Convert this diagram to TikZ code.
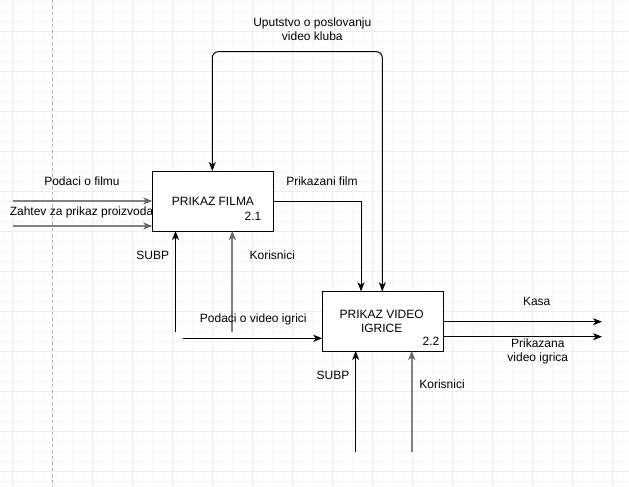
\documentclass[tikz,border=0pt]{standalone}
\usepackage{fontspec}
\setmainfont{Liberation Sans}
\usetikzlibrary{arrows.meta}
\begin{document}
\begin{tikzpicture}[x=1pt,y=-1pt,
  every node/.style={font=\fontsize{12}{14}\selectfont, inner sep=0pt, align=center},
  proc/.style={draw=black, fill=white, line width=1pt, minimum width=121pt, minimum height=60pt},
  blk/.style={draw=black, line width=1pt, -{Stealth[length=9pt,width=7pt,inset=2.5pt]}},
  gry/.style={draw=black!50, line width=2pt, -{Stealth[length=9pt,width=7pt,inset=2.5pt,color=black!60]}},
  lbl/.style={text=black}]
\useasboundingbox (0,0) rectangle (629,487);
\fill[white] (0,0) rectangle (629,487);
% grid
\foreach \i in {0,...,62} \draw[black!3, line width=0.6pt] (2.7+10*\i,0) -- (2.7+10*\i,487);
\foreach \i in {0,...,48} \draw[black!3, line width=0.6pt] (0,1.7+10*\i) -- (629,1.7+10*\i);
\foreach \i in {0,...,15} \draw[black!7, line width=0.8pt] (12.7+40*\i,0) -- (12.7+40*\i,487);
\foreach \i in {0,...,11} \draw[black!7, line width=0.8pt] (0,31.7+40*\i) -- (629,31.7+40*\i);
\draw[black!30, line width=0.8pt, dash pattern=on 3pt off 3pt] (52.3,0) -- (52.3,487);

% label partly hidden by the box
\node[lbl] (lzahtev) at (81.5,212.3) {Zahtev za prikaz proizvoda};

% boxes
\node[proc] (b1) at (212.8,201) {};
\node[proc] (b2) at (382.5,321) {};
\node (t1) at (213,201.7) {PRIKAZ FILMA};
\node (n1) at (253,216.7) {2.1};
\node (t2) at (381.7,321.5) {PRIKAZ VIDEO\\IGRICE};
\node (n2) at (431,341.7) {2.2};

% coordinates
\coordinate (in1s) at (13,201);
\coordinate (in1e) at (152.3,201);
\coordinate (in2s) at (13,226);
\coordinate (in2e) at (152.3,226);
\coordinate (subp1s) at (175.5,331.7);
\coordinate (subp1e) at (175.5,231);
\coordinate (kor1s) at (232.3,331.7);
\coordinate (kor1e) at (232.3,231);
\coordinate (upL) at (212.3,171);
\coordinate (upR) at (382.3,291.3);
\coordinate (pfS) at (273.3,201.5);
\coordinate (pfE) at (361,291.3);
\coordinate (pvS) at (183,338.3);
\coordinate (pvE) at (322.3,338.3);
\coordinate (subp2s) at (355.7,451.7);
\coordinate (subp2e) at (355.7,351);
\coordinate (kor2s) at (411.7,451.7);
\coordinate (kor2e) at (411.7,351);
\coordinate (kasaS) at (442.7,321.7);
\coordinate (kasaE) at (602,321.7);
\coordinate (prS) at (442.7,336.7);
\coordinate (prE) at (602,336.7);

% connectors
\draw[gry] (in1s) -- (in1e);
\draw[gry] (in2s) -- (in2e);
\draw[blk] (subp1s) -- (subp1e);
\draw[gry] (kor1s) -- (kor1e);
\draw[blk, rounded corners=6pt] (upR) -- (382.3,51.7) -- (212.3,51.7) -- (upL);
\draw[blk] (382.3,100) -- (upR);
\draw[blk] (pfS) -- (361,201.5) -- (pfE);
\draw[blk] (pvS) -- (pvE);
\draw[blk] (subp2s) -- (subp2e);
\draw[gry] (kor2s) -- (kor2e);
\draw[blk] (kasaS) -- (kasaE);
\draw[blk] (prS) -- (prE);

% labels
\node[lbl] (lpodf) at (82,181.7) {Podaci o filmu};
\node[lbl] (lsubp1) at (152.8,255) {SUBP};
\node[lbl] (lkor1) at (272.3,255) {Korisnici};
\node[lbl] (lup) at (312.3,29.5) {Uputstvo o poslovanju\\video kluba};
\node[lbl] (lpf) at (322,181.7) {Prikazani film};
\node[lbl] (lpv) at (253.3,319.3) {Podaci o video igrici};
\node[lbl] (lsubp2) at (333,375) {SUBP};
\node[lbl] (lkor2) at (442,384.3) {Korisnici};
\node[lbl] (lkasa) at (536.7,301.7) {Kasa};
\node[lbl] (lpr) at (537.8,351.3) {Prikazana\\video igrica};
\end{tikzpicture}
\end{document}
